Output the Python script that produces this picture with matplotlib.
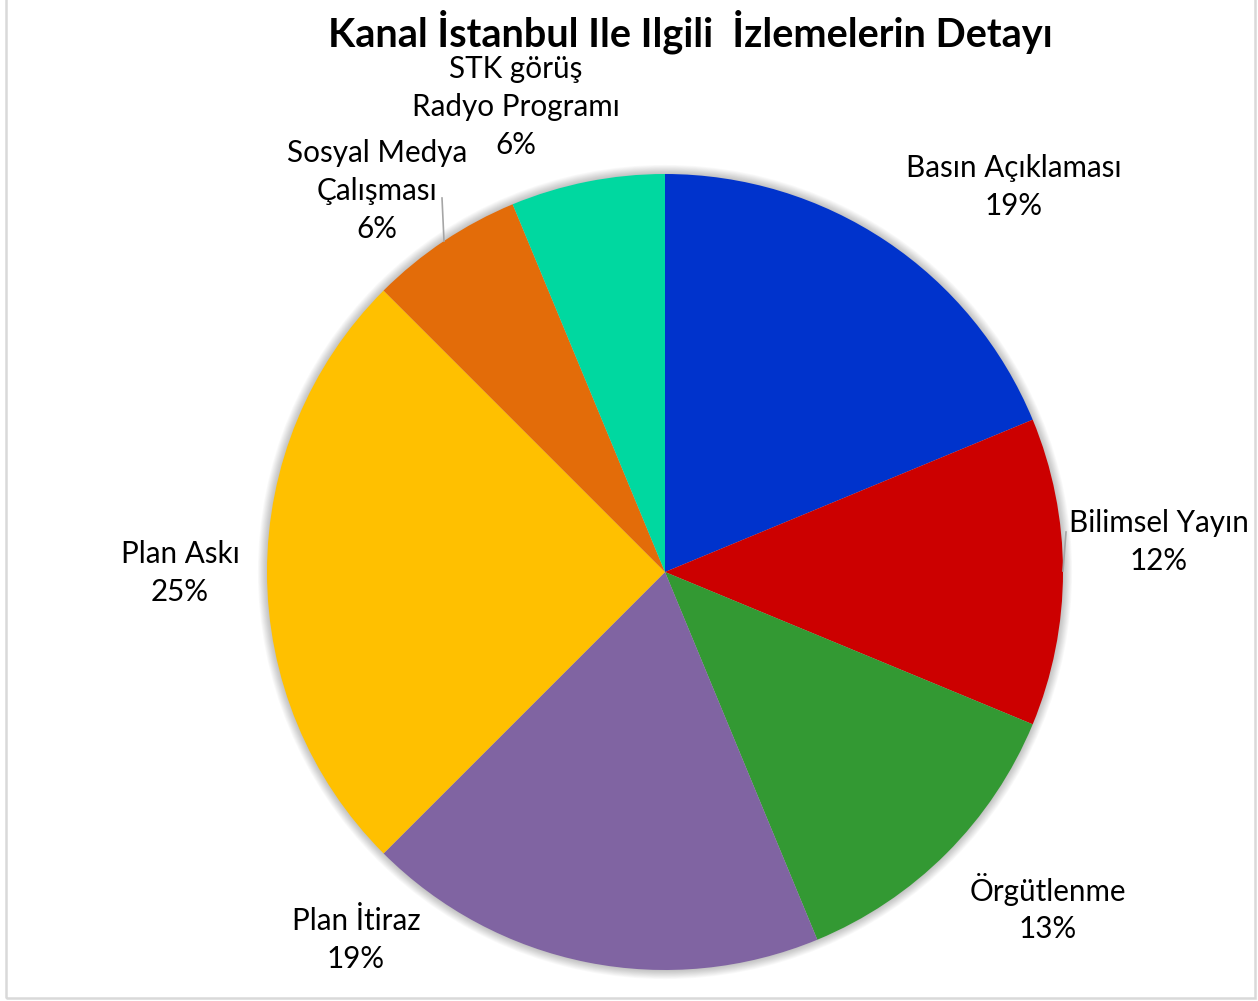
import matplotlib
matplotlib.use("Agg")
import matplotlib.pyplot as plt
from matplotlib.patches import Rectangle, Circle

categories = ["Basın Açıklaması", "Bilimsel Yayın", "Örgütlenme", "Plan İtiraz",
              "Plan Askı", "Sosyal Medya\nÇalışması", "STK görüş\nRadyo Programı"]
values = [3, 2, 2, 3, 4, 1, 1]
pct_labels = ["19%", "12%", "13%", "19%", "25%", "6%", "6%"]
colors = ["#0033CC", "#CC0000", "#339933", "#8064A2", "#FFC000", "#E36C09", "#00D8A0"]

W, H = 1258, 1001
plt.rcParams['font.family'] = ['Lato', 'DejaVu Sans']

fig = plt.figure(figsize=(W / 100, H / 100), dpi=100)
ax = fig.add_axes([0, 0, 1, 1])

cx, cy, r = 665, 572, 398

# soft shadow
for i in range(10):
    ax.add_patch(Circle((cx, cy), r + 1 + i * 0.9, color='black', alpha=0.025, lw=0, zorder=1))

# pie on inverted y-axis: counterclock=True renders clockwise visually; start at top
ax.pie(values, colors=colors, center=(cx, cy), radius=r, startangle=-90,
       counterclock=True, wedgeprops=dict(linewidth=0, zorder=2), frame=True)
ax.set_xlim(0, W)
ax.set_ylim(H, 0)
ax.set_aspect('equal')
ax.axis('off')

label_pos = [(1014, 187), (1159, 542), (1048, 908), (356, 940), (180, 573), (377, 191), (516, 107)]
for cat, p, (x, y) in zip(categories, pct_labels, label_pos):
    ax.text(x, y, cat + "\n" + p, ha='center', va='center', fontsize=21.3,
            linespacing=1.42, color='#000000', zorder=5)

# leader lines
ax.plot([442, 444], [198, 241], color='#A6A6A6', lw=1.2, zorder=3)
ax.plot([1066, 1063], [532, 571], color='#A6A6A6', lw=1.2, zorder=3)

ax.text(690, 32, "Kanal İstanbul Ile Ilgili  İzlemelerin Detayı", ha='center', va='center',
        fontsize=28.5, fontweight='bold', color='#000000')

fig.add_artist(Rectangle((6.5 / W, 3 / H), (1255 - 6.5) / W, (H + 5) / H, transform=fig.transFigure,
                         fill=False, edgecolor='#D9D9D9', lw=1.8))

fig.savefig("out.png", dpi=100)
